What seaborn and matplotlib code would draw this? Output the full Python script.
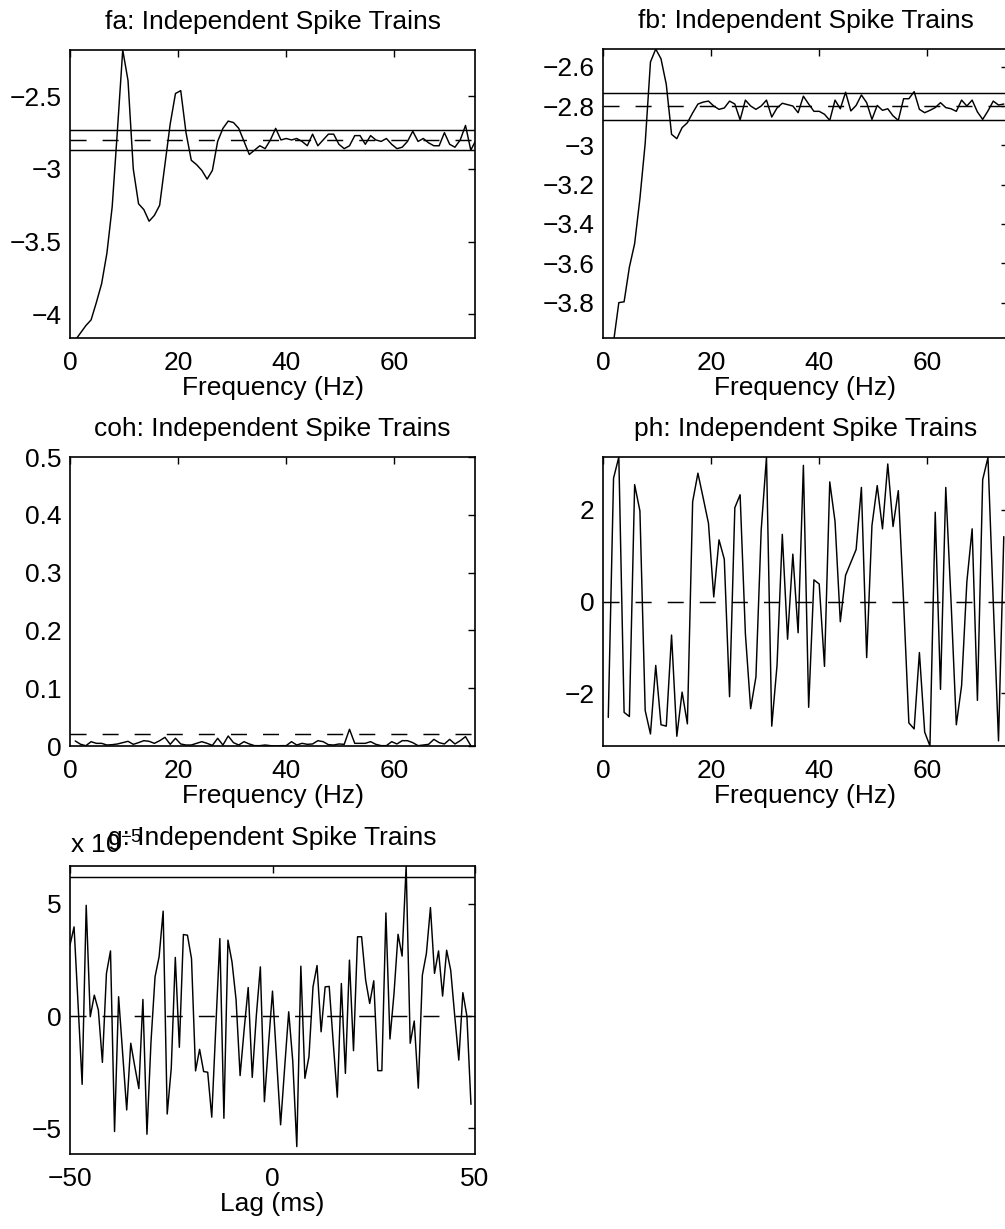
import numpy as np
import pandas as pd
import matplotlib
matplotlib.use("Agg")
import matplotlib.pyplot as plt
import seaborn as sns
from matplotlib.ticker import FuncFormatter

# ---------------- data ----------------
df_hz = 1000.0 / 1024.0                      # frequency resolution (Hz)
k_idx = np.arange(1, 78)                     # frequency bin index
freq = k_idx * df_hz

fa_vals = [-4.18, -4.13, -4.08, -4.04, -3.92, -3.79, -3.58, -3.26, -2.73, -2.18,
           -2.39, -3.00, -3.24, -3.28, -3.36, -3.32, -3.25, -2.97, -2.69, -2.48,
           -2.46, -2.75, -2.94, -2.97, -3.01, -3.07, -3.01, -2.81, -2.72, -2.67,
           -2.68, -2.72, -2.81, -2.90, -2.87, -2.84, -2.86, -2.80, -2.72, -2.80,
           -2.79, -2.80, -2.79, -2.81, -2.84, -2.76, -2.84, -2.80, -2.76, -2.76,
           -2.83, -2.86, -2.84, -2.77, -2.77, -2.83, -2.77, -2.80, -2.81, -2.79,
           -2.83, -2.86, -2.85, -2.81, -2.74, -2.81, -2.79, -2.82, -2.84, -2.84,
           -2.75, -2.83, -2.85, -2.80, -2.70, -2.87, -2.80]
fa_conf = [-2.729, -2.872]
fa_mean = -2.80

fb_vals = [-4.10, -4.00, -3.80, -3.796, -3.62, -3.50, -3.27, -2.99, -2.576, -2.51,
           -2.56, -2.69, -2.944, -2.966, -2.91, -2.885, -2.835, -2.79, -2.78, -2.775,
           -2.80, -2.817, -2.81, -2.775, -2.79, -2.87, -2.77, -2.80, -2.817, -2.80,
           -2.77, -2.856, -2.81, -2.786, -2.793, -2.80, -2.834, -2.75, -2.79, -2.827,
           -2.827, -2.842, -2.873, -2.77, -2.814, -2.73, -2.825, -2.797, -2.744, -2.783,
           -2.868, -2.797, -2.822, -2.814, -2.85, -2.873, -2.763, -2.763, -2.727, -2.817,
           -2.834, -2.822, -2.808, -2.783, -2.808, -2.814, -2.827, -2.77, -2.80, -2.77,
           -2.83, -2.868, -2.825, -2.775, -2.795, -2.79]
fb_conf = [-2.734, -2.873]
fb_mean = -2.80

coh_vals = [0.0087, 0.0030, 0.0005, 0.0075, 0.0046, 0.0046, 0.0017, 0.0023, 0.0035, 0.0058,
            0.0081, 0.0029, 0.0058, 0.0092, 0.0081, 0.0046, 0.0092, 0.0150, 0.0029, 0.0133,
            0.0035, 0.0017, 0.0017, 0.0046, 0.0075, 0.0046, 0.0010, 0.0133, 0.0017, 0.0173,
            0.0058, 0.0017, 0.0075, 0.0035, 0.0006, 0.0006, 0.0017, 0.0006, 0.0000, 0.0006,
            0.0006, 0.0075, 0.0017, 0.0046, 0.0029, 0.0035, 0.0092, 0.0075, 0.0023, 0.0017,
            0.0035, 0.0029, 0.0289, 0.0046, 0.0046, 0.0046, 0.0075, 0.0029, 0.0006, 0.0006,
            0.0075, 0.0035, 0.0092, 0.0092, 0.0058, 0.0006, 0.0017, 0.0029, 0.0115, 0.0058,
            0.0035, 0.0115, 0.0035, 0.0092, 0.0162, 0.0006]
coh_conf = 0.0202

ph_vals = [-2.52, 2.68, 3.14, -2.41, -2.50, 2.54, 1.97, -2.37, -2.88, -1.39,
           -2.68, -2.71, -0.73, -2.93, -1.97, -2.66, 2.17, 2.79, 2.25, 1.70,
           0.10, 1.34, 0.92, -2.07, 2.04, 2.32, -0.70, -2.33, -1.64, 1.56,
           3.14, -2.71, -1.39, 1.46, -0.82, 1.03, -0.68, 2.96, -2.30, 0.47,
           0.38, -1.41, 2.60, 1.74, -0.44, 0.57, 0.85, 1.13, 2.48, -1.22,
           1.65, 2.52, 1.58, 2.99, 1.63, 2.41, 0.00, -2.64, -2.77, -1.11,
           -2.84, -3.14, 1.94, -1.91, 2.48, 0.00, -2.68, -1.83, 0.43, 1.58,
           -2.15, 2.65, 3.13, 0.00, -3.03, 1.41]
ph_ref = 0.0

lags = np.arange(-50, 50)                    # lag (ms)
g_vals = [3.16, 3.97, 0.50, -3.04, 4.93, -0.03, 0.93, 0.27, -2.06, 1.90,      # units of 1e-5
          2.90, -5.14, 0.86, -1.66, -4.18, -1.21, -2.25, -3.23, 0.74, -5.26,
          -1.14, 1.75, 2.64, 4.67, -4.36, -2.33, 2.61, -1.39, 3.63, 3.60,
          2.56, -2.44, -1.48, -2.47, -2.50, -4.50, -0.50, 3.45, -4.55, 3.38,
          2.41, 0.74, -2.65, -0.60, 1.27, -2.73, 0.00, 2.19, -3.81, -1.30,
          1.11, -1.90, -4.84, -2.30, 0.19, -2.00, -5.81, 2.22, -2.77, -1.81,
          1.30, 2.25, -0.70, 1.30, 1.32, -1.20, -3.61, 1.45, -2.55, 2.49,
          -1.54, 3.53, 3.53, 1.60, 0.56, 1.57, -2.43, -2.43, 4.59, -1.02,
          1.00, 3.64, 2.67, 6.68, -1.21, -0.22, -3.21, 1.82, 2.79, 4.83,
          1.90, 2.90, 0.89, 2.93, 2.04, 0.00, -1.96, 1.04, 0.00, -3.93]
g_conf = 6.18
g_ref = 0.0

# ---------------- style ----------------
sns.set_theme(style="white")
plt.rcParams['font.family'] = ['Liberation Sans', 'DejaVu Sans']
plt.rcParams['mathtext.default'] = 'regular'
plt.rcParams['axes.unicode_minus'] = True

FS = 19
LW = 1.05
DASH = (0, (11, 11))

fig = plt.figure(figsize=(10.05, 12.29), dpi=100)
W, H = 1005.0, 1229.0


def add_axes(left, top, right, bottom):
    return fig.add_axes([left / W, 1 - bottom / H, (right - left) / W, (bottom - top) / H])


def fmt(v, pos):
    s = "%g" % round(v, 6)
    return s.replace("-", "\u2212")


def style(ax, xlim, ylim, xticks, yticks, title, xlabel=None):
    ax.set_xlim(*xlim)
    ax.set_ylim(*ylim)
    ax.set_xticks(xticks)
    ax.set_yticks(yticks)
    ax.xaxis.set_major_formatter(FuncFormatter(fmt))
    ax.yaxis.set_major_formatter(FuncFormatter(fmt))
    ax.set_title(title, fontsize=FS, pad=15, color='black')
    ax.tick_params(direction='in', length=5, width=1, top=True, right=True,
                   labelsize=FS, colors='black')
    ax.tick_params(axis='x', pad=9)
    ax.tick_params(axis='y', pad=6)
    for s in ax.spines.values():
        s.set_color('black')
        s.set_linewidth(1.2)
    ax.set_ylabel("")
    ax.set_xlabel(xlabel if xlabel else "", fontsize=FS, color='black', labelpad=1)


def line(ax, x, y):
    d = pd.DataFrame({"x": x, "y": y})
    sns.lineplot(data=d, x="x", y="y", ax=ax, color='black', linewidth=LW,
                 estimator=None, sort=False)


# fa
ax = add_axes(70, 50, 475, 338)
line(ax, freq[:len(fa_vals)], fa_vals)
for c in fa_conf:
    ax.axhline(c, color='black', lw=LW)
ax.axhline(fa_mean, color='black', lw=LW, linestyle=DASH)
style(ax, (0, 75), (-4.165, -2.18), [0, 20, 40, 60], [-4, -3.5, -3, -2.5],
      "fa: Independent Spike Trains", "Frequency (Hz)")

# fb
ax = add_axes(603, 49, 1008, 338)
line(ax, freq[:len(fb_vals)], fb_vals)
for c in fb_conf:
    ax.axhline(c, color='black', lw=LW)
ax.axhline(fb_mean, color='black', lw=LW, linestyle=DASH)
style(ax, (0, 75), (-3.98, -2.51), [0, 20, 40, 60],
      [-3.8, -3.6, -3.4, -3.2, -3.0, -2.8, -2.6],
      "fb: Independent Spike Trains", "Frequency (Hz)")

# coh
ax = add_axes(70, 457, 475, 746)
line(ax, freq[:len(coh_vals)], coh_vals)
ax.axhline(coh_conf, color='black', lw=LW, linestyle=DASH)
style(ax, (0, 75), (0, 0.5), [0, 20, 40, 60], [0, 0.1, 0.2, 0.3, 0.4, 0.5],
      "coh: Independent Spike Trains", "Frequency (Hz)")

# ph
ax = add_axes(603, 457, 1008, 746)
line(ax, freq[:len(ph_vals)], ph_vals)
ax.axhline(ph_ref, color='black', lw=LW, linestyle=DASH)
style(ax, (0, 75), (-np.pi, np.pi), [0, 20, 40, 60], [-2, 0, 2],
      "ph: Independent Spike Trains", "Frequency (Hz)")

# g (cross-correlogram)
ax = add_axes(70, 866, 475, 1154)
line(ax, lags, g_vals)
ax.axhline(g_conf, color='black', lw=LW)
ax.axhline(g_ref, color='black', lw=LW, linestyle=DASH)
style(ax, (-50, 50), (-6.14, 6.68), [-50, 0, 50], [-5, 0, 5],
      "g: Independent Spike Trains", "Lag (ms)")
ax.annotate("x 10$^{\u22125}$", xy=(0, 1), xycoords='axes fraction',
            xytext=(0, 9), textcoords='offset points', ha='left', va='baseline',
            fontsize=FS, color='black')

fig.savefig("out.png", dpi=100, facecolor='white')
